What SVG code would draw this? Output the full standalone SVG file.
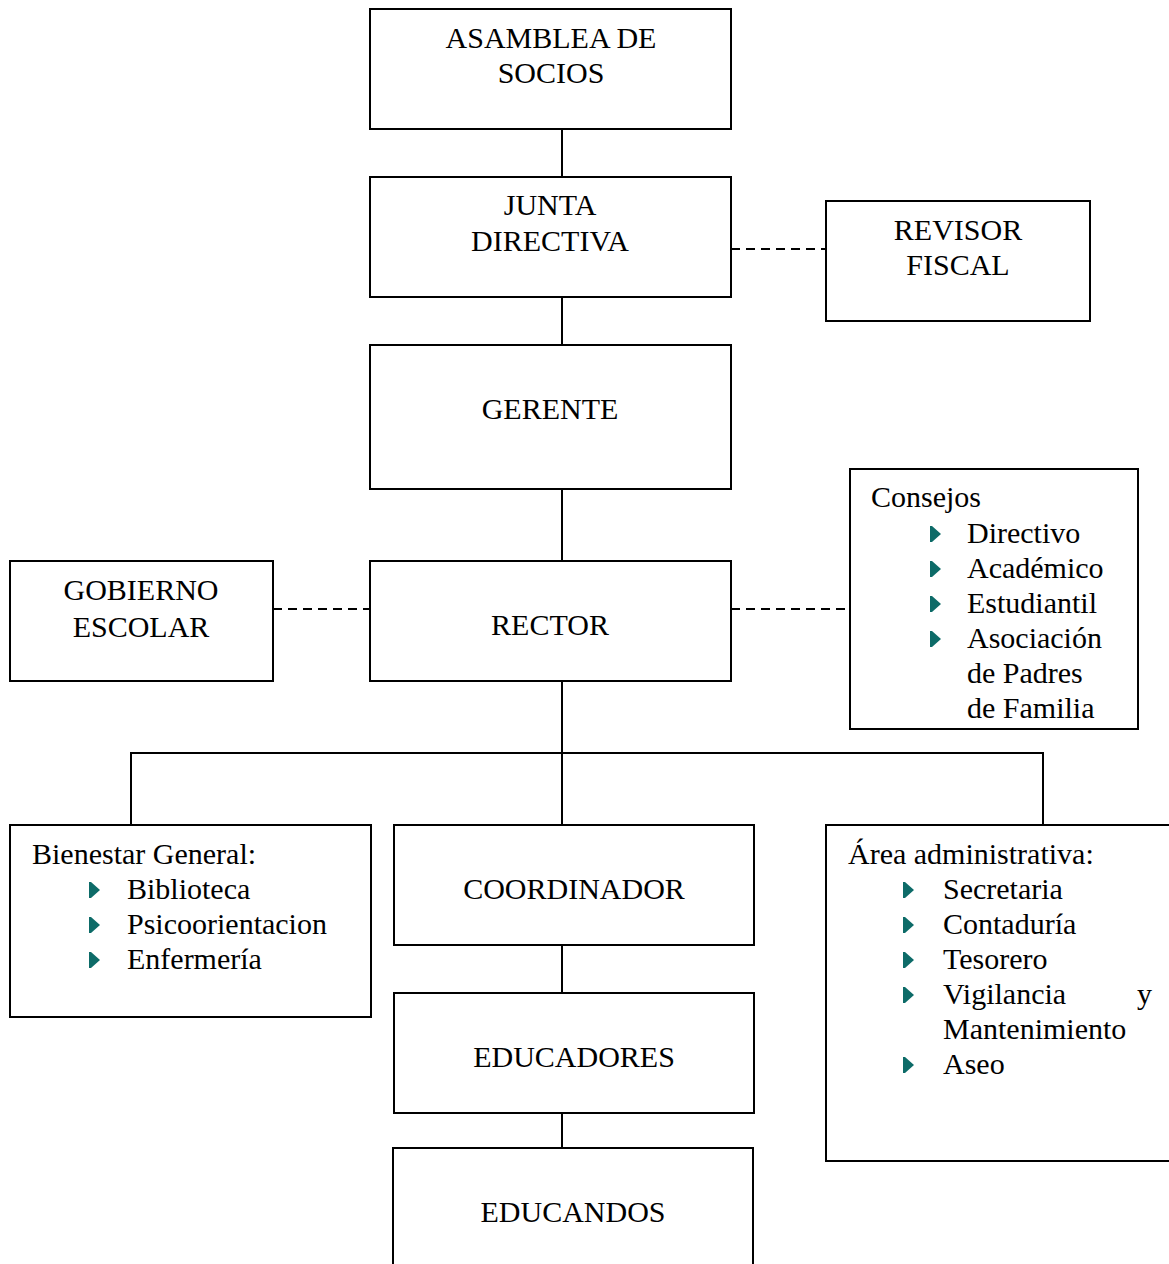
<svg xmlns="http://www.w3.org/2000/svg" xmlns:xlink="http://www.w3.org/1999/xlink" width="1169" height="1264" viewBox="0 0 1169 1264">
<style>
.box{fill:#fff;stroke:#000;stroke-width:2}
.t{font-family:"Liberation Serif","Times New Roman",serif;font-size:30px;fill:#000}
.c{text-anchor:middle}
.ln{stroke:#000;stroke-width:2;fill:none}
.dash{stroke:#000;stroke-width:2;fill:none;stroke-dasharray:9 6}
.bul{fill:#0d6b68}
</style>
<defs>
<path id="bl" class="bul" d="M0,-17 L2,-17 L11,-9 L2,-1 L0,-1 Z"/>
</defs>
<rect width="1169" height="1264" fill="#fff"/>
<g id="connectors">
<line class="ln" x1="562" y1="129" x2="562" y2="177"/>
<line class="ln" x1="562" y1="297" x2="562" y2="345"/>
<line class="ln" x1="562" y1="489" x2="562" y2="561"/>
<line class="ln" x1="562" y1="681" x2="562" y2="825"/>
<polyline class="ln" points="131,825 131,753 1043,753 1043,825"/>
<line class="ln" x1="562" y1="945" x2="562" y2="993"/>
<line class="ln" x1="562" y1="1113" x2="562" y2="1148"/>
<line class="dash" x1="731" y1="249" x2="826" y2="249"/>
<line class="dash" x1="273" y1="609" x2="370" y2="609"/>
<line class="dash" x1="731" y1="609" x2="850" y2="609"/>
</g>
<g id="asamblea">
<rect class="box" x="370" y="9" width="361" height="120"/>
<text class="t c" x="551" y="48">ASAMBLEA DE</text>
<text class="t c" x="551" y="83">SOCIOS</text>
</g>
<g id="junta">
<rect class="box" x="370" y="177" width="361" height="120"/>
<text class="t c" x="550" y="215">JUNTA</text>
<text class="t c" x="550" y="251">DIRECTIVA</text>
</g>
<g id="revisor">
<rect class="box" x="826" y="201" width="264" height="120"/>
<text class="t c" x="958" y="240">REVISOR</text>
<text class="t c" x="958" y="275">FISCAL</text>
</g>
<g id="gerente">
<rect class="box" x="370" y="345" width="361" height="144"/>
<text class="t c" x="550" y="419">GERENTE</text>
</g>
<g id="rector">
<rect class="box" x="370" y="561" width="361" height="120"/>
<text class="t c" x="550" y="635">RECTOR</text>
</g>
<g id="gobierno">
<rect class="box" x="10" y="561" width="263" height="120"/>
<text class="t c" x="141" y="600">GOBIERNO</text>
<text class="t c" x="141" y="637">ESCOLAR</text>
</g>
<g id="consejos">
<rect class="box" x="850" y="469" width="288" height="260"/>
<text class="t" x="871" y="507">Consejos</text>
<use xlink:href="#bl" x="930" y="543"/>
<use xlink:href="#bl" x="930" y="578"/>
<use xlink:href="#bl" x="930" y="613"/>
<use xlink:href="#bl" x="930" y="648"/>
<text class="t" x="967" y="543">Directivo</text>
<text class="t" x="967" y="578">Académico</text>
<text class="t" x="967" y="613">Estudiantil</text>
<text class="t" x="967" y="648">Asociación</text>
<text class="t" x="967" y="683">de Padres</text>
<text class="t" x="967" y="718">de Familia</text>
</g>
<g id="bienestar">
<rect class="box" x="10" y="825" width="361" height="192"/>
<text class="t" x="32" y="864">Bienestar General:</text>
<use xlink:href="#bl" x="89" y="899"/>
<use xlink:href="#bl" x="89" y="934"/>
<use xlink:href="#bl" x="89" y="969"/>
<text class="t" x="127" y="899">Biblioteca</text>
<text class="t" x="127" y="934">Psicoorientacion</text>
<text class="t" x="127" y="969">Enfermería</text>
</g>
<g id="coordinador">
<rect class="box" x="394" y="825" width="360" height="120"/>
<text class="t c" x="574" y="899">COORDINADOR</text>
</g>
<g id="educadores">
<rect class="box" x="394" y="993" width="360" height="120"/>
<text class="t c" x="574" y="1067">EDUCADORES</text>
</g>
<g id="educandos">
<rect class="box" x="393" y="1148" width="360" height="140"/>
<text class="t c" x="573" y="1222">EDUCANDOS</text>
</g>
<g id="administrativa">
<rect class="box" x="826" y="825" width="360" height="336"/>
<text class="t" x="848" y="864">Área administrativa:</text>
<use xlink:href="#bl" x="903" y="899"/>
<use xlink:href="#bl" x="903" y="934"/>
<use xlink:href="#bl" x="903" y="969"/>
<use xlink:href="#bl" x="903" y="1004"/>
<use xlink:href="#bl" x="903" y="1074"/>
<text class="t" x="943" y="899">Secretaria</text>
<text class="t" x="943" y="934">Contaduría</text>
<text class="t" x="943" y="969">Tesorero</text>
<text class="t" x="943" y="1004">Vigilancia<tspan x="1137">y</tspan></text>
<text class="t" x="943" y="1039">Mantenimiento</text>
<text class="t" x="943" y="1074">Aseo</text>
</g>
</svg>
